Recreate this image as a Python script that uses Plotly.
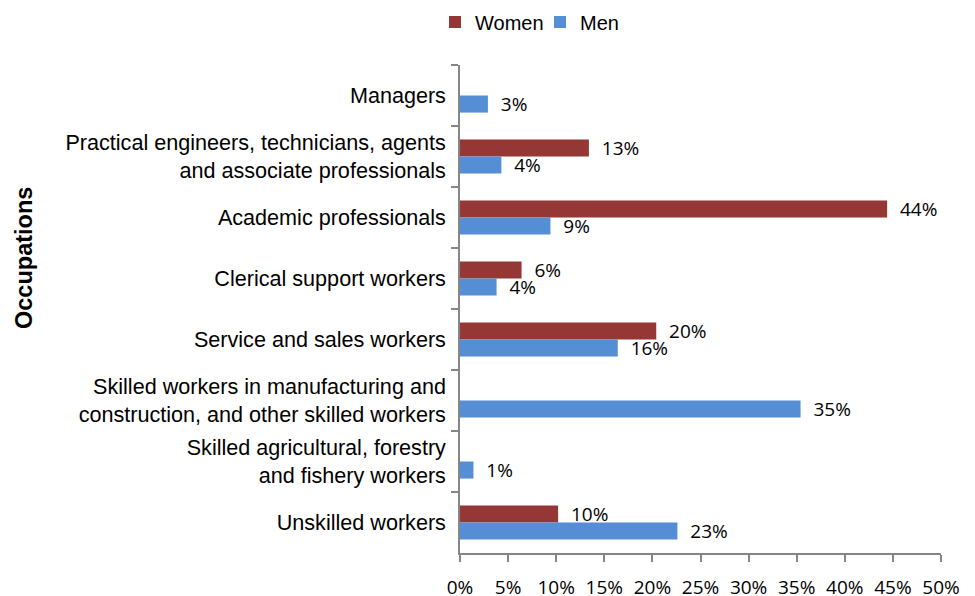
import plotly.graph_objects as go

categories = [
    "Managers",
    "Practical engineers, technicians, agents<br>and associate professionals",
    "Academic professionals",
    "Clerical support workers",
    "Service and sales workers",
    "Skilled workers in manufacturing and<br>construction, and other skilled workers",
    "Skilled agricultural, forestry<br>and fishery workers",
    "Unskilled workers",
]
women = [None, 0.134, 0.444, 0.064, 0.204, None, None, 0.102]
men = [0.029, 0.043, 0.094, 0.038, 0.164, 0.354, 0.014, 0.226]
x_ticks = [0, 0.05, 0.10, 0.15, 0.20, 0.25, 0.30, 0.35, 0.40, 0.45, 0.50]

WOMEN_C = "#953735"
MEN_C = "#558ED5"
label_font = dict(family="Open Sans, Segoe UI, sans-serif", size=19, color="#000000")

# page has an 8px body margin; figure sized/positioned to compensate
W, H = 967, 588
L, R, T, B = 452, 34, 57, 43
plot_w = W - L - R
plot_h = H - T - B

fig = go.Figure()
fig.add_trace(go.Bar(
    name="Women", y=categories, x=women, orientation="h",
    marker=dict(color=WOMEN_C, line=dict(width=0)),
    texttemplate="\u00a0\u00a0%{x:.0%}", textposition="outside",
    textfont=label_font, cliponaxis=False, constraintext="none",
))
fig.add_trace(go.Bar(
    name="Men", y=categories, x=men, orientation="h",
    marker=dict(color=MEN_C, line=dict(width=0)),
    texttemplate="\u00a0\u00a0%{x:.0%}", textposition="outside",
    textfont=label_font, cliponaxis=False, constraintext="none",
))

fig.update_layout(
    width=W, height=H,
    margin=dict(l=L, r=R, t=T, b=B, autoexpand=False),
    paper_bgcolor="white", plot_bgcolor="white",
    barmode="group", bargap=0.44, bargroupgap=0,
    showlegend=True,
    legend=dict(
        orientation="h", x=(427 - L) / plot_w, xanchor="left",
        y=(T + plot_h - 14) / plot_h, yanchor="middle",
        font=dict(family="Liberation Sans, Arial, sans-serif", size=20, color="#000000"),
        traceorder="normal", itemwidth=30, entrywidth=60, entrywidthmode="pixels",
    ),
    xaxis=dict(
        range=[0, 0.5], tickvals=x_ticks, tickformat=".0%",
        showgrid=False, zeroline=False, automargin=False,
        showline=True, linecolor="#868686", linewidth=1.5,
        ticks="outside", ticklen=7, tickcolor="#868686", tickwidth=1.5,
        tickfont=dict(family="Open Sans, Segoe UI, sans-serif", size=19, color="#000000"),
        ticklabelstandoff=9,
    ),
    yaxis=dict(
        autorange="reversed", type="category",
        showgrid=False, zeroline=False, automargin=False,
        showline=True, linecolor="#868686", linewidth=1.5,
        ticks="outside", ticklen=7, tickcolor="#868686", tickwidth=1.5,
        tickson="boundaries",
        tickfont=dict(family="Liberation Sans, Arial, sans-serif", size=21.6, color="#000000"),
        ticklabelstandoff=8,
    ),
    annotations=[dict(
        text="<b>Occupations</b>", textangle=-90,
        xref="paper", yref="paper",
        x=(16 - L) / plot_w, y=(T + plot_h - 250) / plot_h,
        xanchor="center", yanchor="middle", showarrow=False,
        font=dict(family="Liberation Sans, Arial, sans-serif", size=23.5, color="#000000"),
    )],
)

fig.write_html("out.html")
